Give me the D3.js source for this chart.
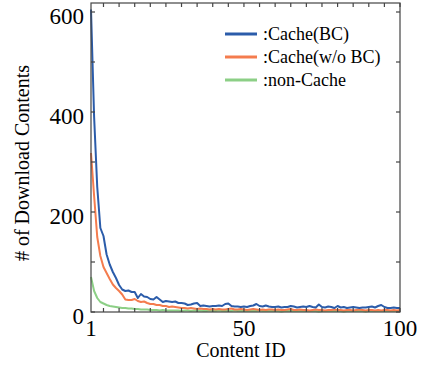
<!DOCTYPE html>
<html>
<head>
<meta charset="utf-8">
<script src="https://cdn.jsdelivr.net/npm/d3@7"></script>
<style>
  body { margin: 0; background: #fff; }
  svg { display: block; }
</style>
</head>
<body>
<div id="app"></div>
<script>
const seriesNames = [":Cache(BC)", ":Cache(w/o BC)", ":non-Cache"];
const seriesColors = ["#2b5caa", "#f47c4e", "#8ccf86"];

// downloads per content id 1..100
const cacheBC = [
  605, 390, 250, 168, 152, 115, 95, 80, 68, 54,
  45, 42, 43, 40, 40, 28, 36, 31, 30, 26,
  25, 30, 25, 20, 22, 21, 20, 21, 18, 18,
  17, 14, 15, 17, 18, 12, 13, 12, 11, 12,
  12, 13, 12, 16, 17, 12, 11, 11, 10, 11,
  10, 12, 13, 16, 12, 11, 13, 11, 10, 10,
  11, 9, 10, 10, 12, 11, 9, 10, 11, 10,
  12, 10, 9, 15, 10, 9, 11, 10, 8, 12,
  9, 10, 8, 9, 10, 9, 8, 9, 9, 10,
  11, 9, 12, 14, 10, 8, 8, 9, 8, 8
];
const cacheNoBC = [
  318, 232, 150, 112, 90, 78, 66, 55, 48, 42,
  35, 25, 24, 24, 26, 22, 20, 21, 18, 16,
  16, 14, 14, 12, 12, 10, 11, 10, 9, 8,
  8, 7, 8, 7, 6, 7, 6, 6, 5, 6,
  5, 6, 5, 5, 6, 7, 5, 5, 6, 5,
  4, 5, 6, 5, 4, 5, 4, 5, 5, 4,
  5, 4, 4, 5, 6, 4, 4, 5, 4, 4,
  3, 4, 5, 4, 4, 3, 4, 4, 5, 4,
  4, 3, 4, 4, 3, 4, 5, 4, 3, 4,
  4, 3, 4, 3, 4, 4, 3, 4, 3, 4
];
const nonCache = [
  70, 42, 28, 20, 17, 14, 12, 11, 10, 9,
  8, 8, 7, 7, 6, 6, 5, 5, 5, 4,
  4, 4, 3, 4, 3, 3, 3, 3, 3, 2,
  3, 3, 2, 3, 2, 3, 2, 2, 3, 2,
  2, 3, 2, 2, 2, 2, 3, 2, 2, 2,
  2, 2, 2, 2, 3, 2, 2, 2, 2, 2,
  2, 1, 2, 2, 2, 2, 2, 2, 2, 2,
  2, 2, 2, 1, 2, 2, 2, 2, 2, 2,
  2, 1, 2, 2, 2, 2, 2, 2, 1, 2,
  2, 2, 2, 2, 2, 2, 2, 2, 2, 2
];

const xTickLabels = [1, 50, 100];
const yTickLabels = [0, 200, 400, 600];

const width = 423;
const height = 365;
const margin = { top: 3, right: 23, bottom: 53, left: 91 };
const serif = "'Liberation Serif', 'Times New Roman', serif";

const svg = d3
  .select("#app")
  .append("svg")
  .attr("width", width)
  .attr("height", height)
  .style("font-family", serif);

const x = d3.scaleLinear().domain([1, 100]).range([margin.left, width - margin.right]);
const y = d3.scaleLinear().domain([0, 618]).range([height - margin.bottom, margin.top]);

const series = [cacheBC, cacheNoBC, nonCache];

// data lines (green first so blue sits on top)
const line = d3
  .line()
  .x((d, i) => x(i + 1))
  .y(d => y(d));

[2, 1, 0].forEach(k => {
  svg
    .append("path")
    .datum(series[k])
    .attr("fill", "none")
    .attr("stroke", seriesColors[k])
    .attr("stroke-width", 2)
    .attr("stroke-linejoin", "round")
    .attr("d", line);
});

// frame with inward ticks on all sides
const xTicks = d3.range(5, 100, 5).concat([100]);
const yTicks = d3.range(0, 601, 100);
const tickLen = 4;
const frame = svg.append("g").attr("stroke", "#444").attr("stroke-width", 1.2);

frame
  .append("rect")
  .attr("x", x(1))
  .attr("y", y.range()[1])
  .attr("width", x(100) - x(1))
  .attr("height", y(0) - y.range()[1])
  .attr("fill", "none");

frame
  .selectAll(".xb")
  .data(xTicks)
  .enter()
  .append("line")
  .attr("x1", d => x(d))
  .attr("x2", d => x(d))
  .attr("y1", y(0))
  .attr("y2", y(0) - tickLen);

frame
  .selectAll(".xt")
  .data(xTicks)
  .enter()
  .append("line")
  .attr("x1", d => x(d))
  .attr("x2", d => x(d))
  .attr("y1", y.range()[1])
  .attr("y2", y.range()[1] + tickLen);

frame
  .selectAll(".yl")
  .data(yTicks)
  .enter()
  .append("line")
  .attr("x1", x(1))
  .attr("x2", x(1) + tickLen)
  .attr("y1", d => y(d))
  .attr("y2", d => y(d));

frame
  .selectAll(".yr")
  .data(yTicks)
  .enter()
  .append("line")
  .attr("x1", x(100))
  .attr("x2", x(100) - tickLen)
  .attr("y1", d => y(d))
  .attr("y2", d => y(d));

// tick labels
svg
  .selectAll(".xlab")
  .data(xTickLabels)
  .enter()
  .append("text")
  .attr("x", d => x(d))
  .attr("y", y(0) + 24)
  .attr("text-anchor", "middle")
  .attr("font-family", serif)
  .attr("font-size", 23)
  .text(d => d);

svg
  .selectAll(".ylab")
  .data(yTickLabels)
  .enter()
  .append("text")
  .attr("x", x(1) - 7)
  .attr("y", d => y(d) + 12)
  .attr("text-anchor", "end")
  .attr("font-family", serif)
  .attr("font-size", 23)
  .text(d => d);

// axis titles
svg
  .append("text")
  .attr("x", 241)
  .attr("y", 357)
  .attr("text-anchor", "middle")
  .attr("font-family", serif)
  .attr("font-size", 20)
  .text("Content ID");

svg
  .append("text")
  .attr("transform", "translate(29,163) rotate(-90)")
  .attr("text-anchor", "middle")
  .attr("font-family", serif)
  .attr("font-size", 20)
  .text("# of Download Contents");

// legend
const legend = svg
  .selectAll(".legend")
  .data(seriesNames)
  .enter()
  .append("g")
  .attr("transform", (d, i) => `translate(225,${34 + i * 23})`);

legend
  .append("line")
  .attr("x1", 0)
  .attr("x2", 32)
  .attr("stroke", (d, i) => seriesColors[i])
  .attr("stroke-width", 3);

legend
  .append("text")
  .attr("x", 38)
  .attr("y", 6)
  .attr("font-family", serif)
  .attr("font-size", 18)
  .text(d => d);
</script>
</body>
</html>
